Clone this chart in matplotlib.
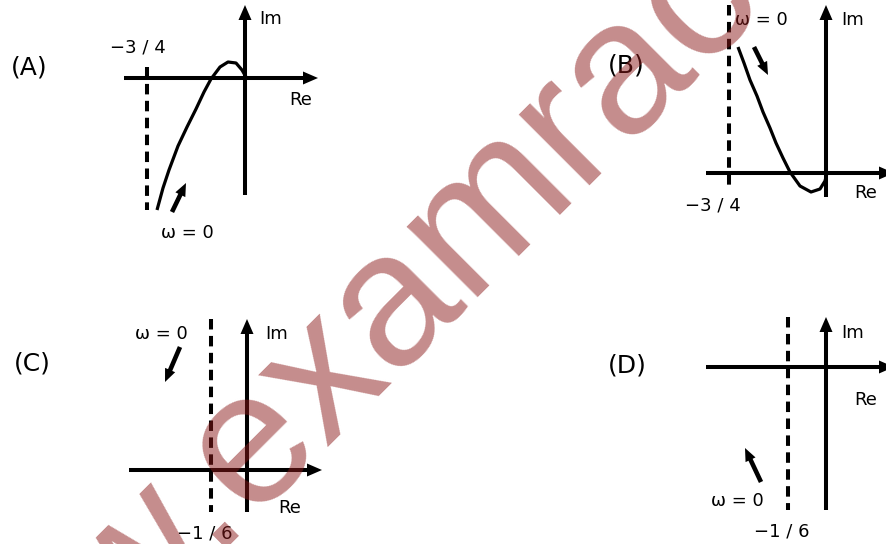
import matplotlib
matplotlib.use('Agg')
import matplotlib.pyplot as plt
from matplotlib.patches import Polygon
import numpy as np

# Figure in pixel coordinates (y down), 886 x 544
W, H = 886, 544

# Curves (pixel coords)
curve_a_x = [157, 163, 169, 178, 187, 196, 204, 211, 220, 228, 236, 242, 246]
curve_a_y = [210, 188, 170, 146, 127, 109, 92, 79, 67, 62, 63, 70, 77]
curve_b_x = [738, 744, 750, 757, 763, 770, 776, 783, 790, 800, 811, 820, 825, 827]
curve_b_y = [47, 63, 80, 96, 112, 128, 143, 158, 172, 186, 192, 189, 181, 173]

# Axes: origin x, axis y, horizontal extent, vertical extent
panels = ['A', 'B', 'C', 'D']
origin_x = [245, 826, 247, 826]
axis_y = [78, 173, 470, 367]
re_start = [124, 706, 129, 706]
re_tip = [318, 894, 322, 894]
im_bottom = [195, 197, 512, 510]
im_tip = [5, 5, 319, 317]

# Dashed asymptotes
dash_x = [147, 729, 211, 788]
dash_top = [67, 5, 319, 317]
dash_bottom = [210, 185, 512, 510]
dash_labels = ['\u22123 / 4', '\u22123 / 4', '\u22121 / 6', '\u22121 / 6']
dash_label_pos = [(138, 48), (713, 205), (205, 534), (782, 532)]

# omega = 0 arrows and labels
w_arrow_start = [(172, 212), (754, 47), (180, 347), (761, 482)]
w_arrow_tip = [(186, 183), (768, 75), (165, 382), (745, 448)]
w_label_pos = [(187, 233), (761, 20), (161, 334), (737, 501)]

panel_label_pos = [(29, 68), (626, 65), (32, 364), (627, 365)]
im_label_pos = [(271, 19), (853, 20), (277, 334), (853, 333)]
re_label_pos = [(301, 100), (866, 193), (290, 508), (866, 400)]

fig = plt.figure(figsize=(W / 100, H / 100), dpi=100)
ax = fig.add_axes([0, 0, 1, 1])
ax.set_xlim(0, W)
ax.set_ylim(H, 0)
ax.axis('off')


def arrow(x0, y0, x1, y1, lw=2.9, hl=15, hw=13):
    d = np.array([x1 - x0, y1 - y0], dtype=float)
    L = np.hypot(*d)
    u = d / L
    n = np.array([-u[1], u[0]])
    base = np.array([x1, y1]) - u * hl
    ax.plot([x0, base[0] + u[0]], [y0, base[1] + u[1]], color='black', lw=lw,
            solid_capstyle='butt')
    tri = [(x1, y1), tuple(base + n * hw / 2), tuple(base - n * hw / 2)]
    ax.add_patch(Polygon(tri, closed=True, color='black', lw=0))


txt = dict(ha='center', va='center', color='black', family='DejaVu Sans')

for i, p in enumerate(panels):
    # Re axis and Im axis
    arrow(re_start[i], axis_y[i], re_tip[i], axis_y[i])
    arrow(origin_x[i], im_bottom[i], origin_x[i], im_tip[i])
    # dashed line
    ax.plot([dash_x[i], dash_x[i]], [dash_top[i], dash_bottom[i]], color='black',
            lw=2.9, dashes=(2.6, 1.6), solid_capstyle='butt', dash_capstyle='butt')
    ax.text(*dash_label_pos[i], dash_labels[i], fontsize=13, **txt)
    # omega arrow
    arrow(*w_arrow_start[i], *w_arrow_tip[i], lw=3.3, hl=13, hw=11)
    ax.text(*w_label_pos[i], '\u03c9 = 0', fontsize=13, **txt)
    ax.text(*panel_label_pos[i], '(%s)' % p, fontsize=18, **txt)
    ax.text(*im_label_pos[i], 'Im', fontsize=13, **txt)
    ax.text(*re_label_pos[i], 'Re', fontsize=13, **txt)

ax.plot(curve_a_x, curve_a_y, color='black', lw=2.3, solid_capstyle='butt')
ax.plot(curve_b_x, curve_b_y, color='black', lw=2.3, solid_capstyle='butt')

# watermark
ax.text(498, 208, 'www.examrace.com', rotation=45, rotation_mode='anchor',
        ha='center', va='center', fontsize=137, family='Liberation Sans',
        color='#8b1a1a', alpha=0.5, zorder=10)

fig.savefig('out.png', dpi=100)
